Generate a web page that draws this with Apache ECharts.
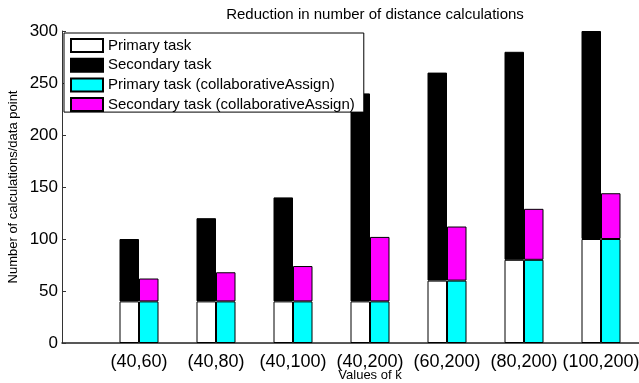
<!DOCTYPE html>
<html>
<head>
<meta charset="utf-8">
<script src="https://cdn.jsdelivr.net/npm/echarts@6/dist/echarts.min.js"></script>
<style>html,body{margin:0;padding:0;background:#fff;}#c{width:639px;height:383px;}</style>
</head>
<body>
<div id="c"></div>
<script>
var categories = ['(40,60)', '(40,80)', '(40,100)', '(40,200)', '(60,200)', '(80,200)', '(100,200)'];
var primaryTask = [40, 40, 40, 40, 60, 80, 100];
var secondaryTask = [60, 80, 100, 200, 200, 200, 200];
var primaryCollab = [40, 40, 40, 40, 60, 80, 100];
var secondaryCollab = [22, 28, 34, 62, 52, 49, 44];
var yTicks = [0, 50, 100, 150, 200, 250, 300];

var FONT = 'Liberation Sans, Arial, Helvetica, sans-serif';
// axis has an empty slot at each end (MATLAB-style xlim [0, n+1])
var axisCats = [''].concat(categories, ['']);
function pad(arr) { return ['-'].concat(arr, ['-']); }
function barSeries(name, stack, data, color, bc) {
  return {
    name: name, type: 'bar', stack: stack, data: pad(data),
    barWidth: 19.5, barGap: '0%',
    itemStyle: { color: color, borderColor: bc, borderWidth: 1 },
    emphasis: { disabled: true }
  };
}
var chart = echarts.init(document.getElementById('c'), null, { renderer: 'canvas' });
chart.setOption({
  animation: false,
  backgroundColor: '#fff',
  textStyle: { fontFamily: FONT },
  title: {
    text: 'Reduction in number of distance calculations',
    left: 370, top: 2, textAlign: 'center',
    textStyle: { fontFamily: FONT, fontSize: 15, fontWeight: 'normal', color: '#000' }
  },
  grid: { left: 62, right: -39, top: 31, bottom: 40, containLabel: false, outerBoundsMode: 'none' },
  legend: {
    orient: 'vertical', left: 64, top: 33,
    padding: [5, 9, 0, 6], itemGap: 4.7, itemWidth: 32, itemHeight: 13,
    icon: 'rect',
    backgroundColor: '#fff', borderColor: '#000', borderWidth: 1,
    textStyle: { fontFamily: FONT, fontSize: 15, lineHeight: 14, color: '#000' },
    selectedMode: false,
    data: ['Primary task', 'Secondary task', 'Primary task (collaborativeAssign)', 'Secondary task (collaborativeAssign)']
  },
  xAxis: {
    type: 'category', data: axisCats, boundaryGap: false,
    name: 'Values of k', nameLocation: 'middle', nameGap: 26, nameMoveOverlap: false,
    nameTextStyle: { fontFamily: FONT, fontSize: 13, color: '#000' },
    axisLine: { show: true, lineStyle: { color: '#222', width: 1.5 } },
    axisTick: { show: false },
    splitLine: { show: false },
    axisLabel: { fontFamily: FONT, fontSize: 18, color: '#000', margin: 10, interval: 0 }
  },
  yAxis: {
    type: 'value', min: yTicks[0], max: yTicks[yTicks.length - 1], interval: 50,
    name: 'Number of calculations/data point', nameLocation: 'middle', nameGap: 42, nameMoveOverlap: false,
    nameTextStyle: { fontFamily: FONT, fontSize: 13, color: '#000' },
    axisLine: { show: true, lineStyle: { color: '#333', width: 1 } },
    axisTick: { show: true, inside: true, length: 4, lineStyle: { color: '#333' } },
    splitLine: { show: false },
    axisLabel: { fontFamily: FONT, fontSize: 17, color: '#000', margin: 4 }
  },
  series: [
    barSeries('Primary task', 'a', primaryTask, '#ffffff', '#000'),
    barSeries('Secondary task', 'a', secondaryTask, '#000000', '#000'),
    barSeries('Primary task (collaborativeAssign)', 'b', primaryCollab, '#00ffff', '#000'),
    barSeries('Secondary task (collaborativeAssign)', 'b', secondaryCollab, '#ff00ff', '#000')
  ]
});
</script>
</body>
</html>
